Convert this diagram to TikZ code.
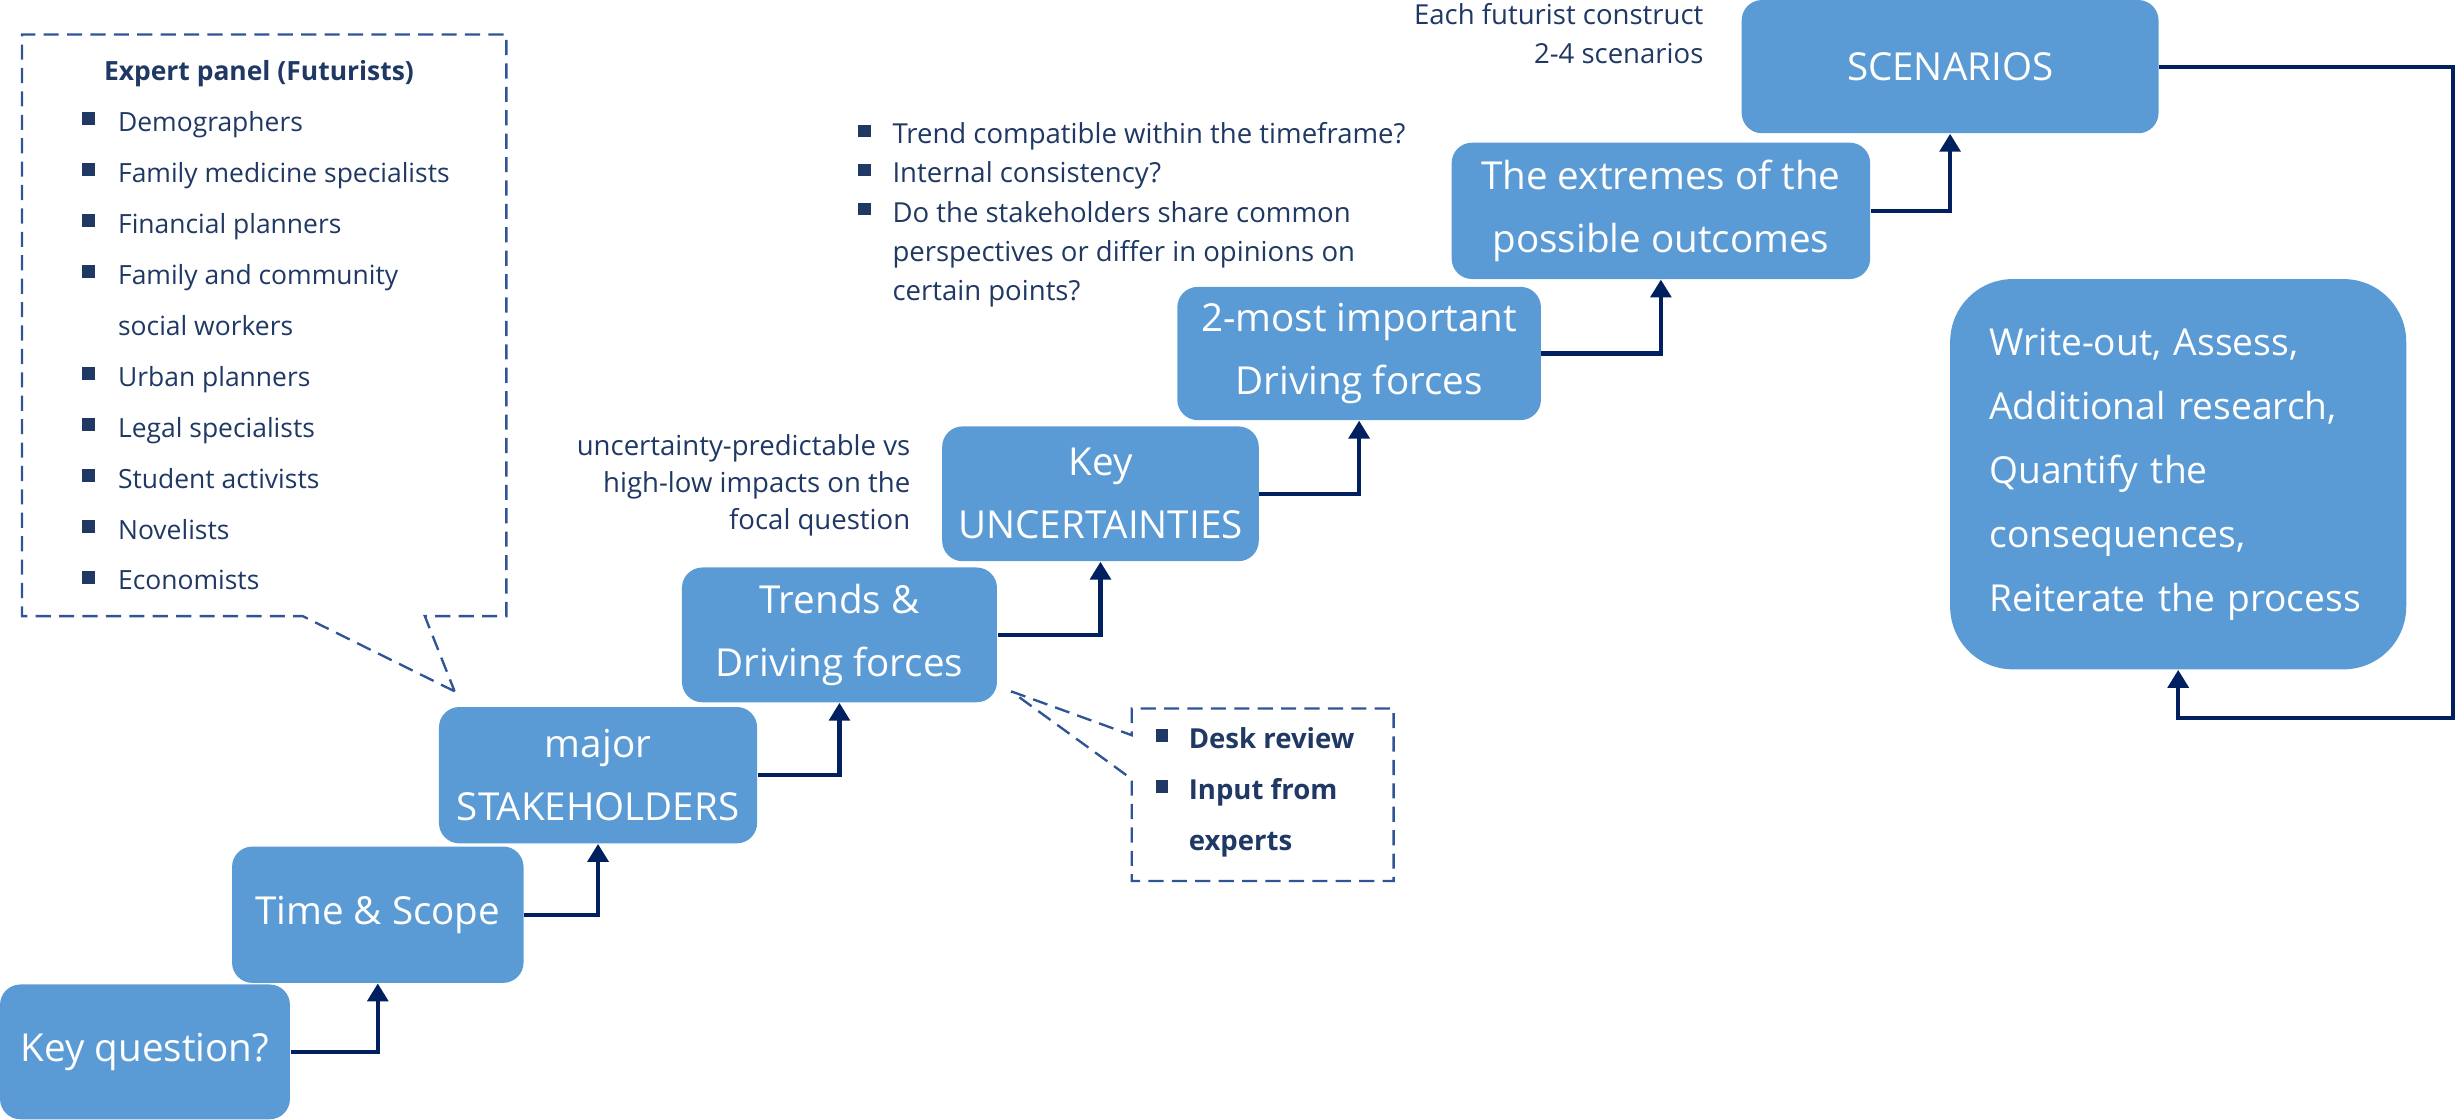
\documentclass[tikz,border=0pt]{standalone}
\usepackage{fontspec}
\setmainfont{Open Sans}
\usetikzlibrary{arrows.meta}
\usepackage{xcolor}
\newcommand{\sqbullet}[1]{\makebox[#1][l]{\raisebox{0.45ex}{\color{bulletcolor}\rule{0.16cm}{0.16cm}}}}

\begin{document}
\begin{tikzpicture}[x=0.02cm,y=-0.02cm,
  stagebox/.style={fill=boxfill,rounded corners=0.26cm,text=white,align=center,inner sep=0pt,font=\fontsize{14}{22.8}\selectfont},
  flow/.style={draw=arrowcolor,line width=1.5pt,-{Triangle[width=7.5pt,length=6.5pt]}},
  callout/.style={draw=dashcolor,line width=0.85pt,dash pattern=on 5.5pt off 3pt},
  note/.style={text=notecolor,inner sep=0pt,font=\fontsize{10}{14.2}\selectfont}]
\definecolor{boxfill}{RGB}{91,155,213} % Definition of the box fill color
\definecolor{arrowcolor}{RGB}{0,32,96} % Definition of the arrow color
\definecolor{dashcolor}{RGB}{47,85,151} % Definition of the dashed line color
\definecolor{notecolor}{RGB}{31,56,100} % Definition of the note text color
\definecolor{bulletcolor}{RGB}{31,56,100} % Definition of the bullet color
\useasboundingbox (0,0) rectangle (1568,714); % Fix the page size
% the stairs of the process
\node[stagebox,minimum width=3.70cm,minimum height=1.72cm] (keyq) at (92.5,671) {Key question?};
\node[stagebox,minimum width=3.72cm,minimum height=1.74cm] (time) at (241,583.5) {Time \& Scope};
\node[stagebox,minimum width=4.06cm,minimum height=1.74cm] (stake) at (381.5,494.5) {major\\STAKEHOLDERS};
\node[stagebox,minimum width=4.02cm,minimum height=1.72cm] (trends) at (535.5,405) {Trends \&\\Driving forces};
\node[stagebox,minimum width=4.04cm,minimum height=1.72cm] (keyunc) at (702,315) {Key\\UNCERTAINTIES};
\node[stagebox,minimum width=4.64cm,minimum height=1.70cm] (twomost) at (867,225.5) {2-most important\\Driving forces};
\node[stagebox,minimum width=5.34cm,minimum height=1.74cm] (extremes) at (1059.5,134.5) {The extremes of the\\possible outcomes};
\node[stagebox,minimum width=5.32cm,minimum height=1.70cm] (scen) at (1244,42.5) {SCENARIOS};
\node[stagebox,rounded corners=0.8cm,minimum width=5.82cm,minimum height=4.98cm,text width=4.82cm,align=left,font=\fontsize{13.5}{23.3}\selectfont] (writeout) at (1389.5,302.5) {Write-out, Assess,\\Additional research,\\Quantify the\\consequences,\\Reiterate the process};
% steps up
\draw[flow] (keyq.east) -| (time.south);
\draw[flow] (time.east) -| (stake.south);
\draw[flow] (stake.east) -| (trends.south);
\draw[flow] (trends.east) -| (keyunc.south);
\draw[flow] (keyunc.east) -| (twomost.south);
\draw[flow] (twomost.east) -| (extremes.south);
\draw[flow] (extremes.east) -| (scen.south);
\coordinate (back) at (1565,458); % corner of the way back
\draw[flow] (scen.east) -| (back) -| (writeout.south);
% notes
\node[note,anchor=east,align=right] (construct) at (1087,21.5) {Each futurist construct\\2-4 scenarios};
\node[note,anchor=west,align=left] (checks) at (547,137) {\sqbullet{0.44cm}Trend compatible within the timeframe?\\\sqbullet{0.44cm}Internal consistency?\\\sqbullet{0.44cm}Do the stakeholders share common\\\hspace*{0.44cm}perspectives or differ in opinions on\\\hspace*{0.44cm}certain points?};
\node[note,anchor=east,align=right,font=\fontsize{10}{13.4}\selectfont] (axes) at (581,309.5) {uncertainty-predictable vs\\high-low impacts on the\\focal question};
% callout of the experts
\draw[callout] (290,441) -- (193,393) -- (14,393) -- (14,22) -- (323,22) -- (323,393) -- (271,393) -- cycle; % Draw the dashed callout
\node[note,anchor=west,align=left,font=\fontsize{9.6}{18.5}\selectfont] (panel) at (52,207.5) {\hspace*{0.28cm}\textbf{Expert panel (Futurists)}\\\sqbullet{0.46cm}Demographers\\\sqbullet{0.46cm}Family medicine specialists\\\sqbullet{0.46cm}Financial planners\\\sqbullet{0.46cm}Family and community\\\hspace*{0.46cm}social workers\\\sqbullet{0.46cm}Urban planners\\\sqbullet{0.46cm}Legal specialists\\\sqbullet{0.46cm}Student activists\\\sqbullet{0.46cm}Novelists\\\sqbullet{0.46cm}Economists};
% callout of the sources
\draw[callout] (645,441) -- (722,469) -- (722,452) -- (889,452) -- (889,562) -- (722,562) -- (722,497) -- cycle; % Draw the dashed callout
\node[note,anchor=west,align=left,font=\bfseries\fontsize{10}{18.5}\selectfont] (sources) at (737,505.5) {\sqbullet{0.42cm}Desk review\\\sqbullet{0.42cm}Input from\\\hspace*{0.42cm}experts};
\end{tikzpicture}
\end{document}
